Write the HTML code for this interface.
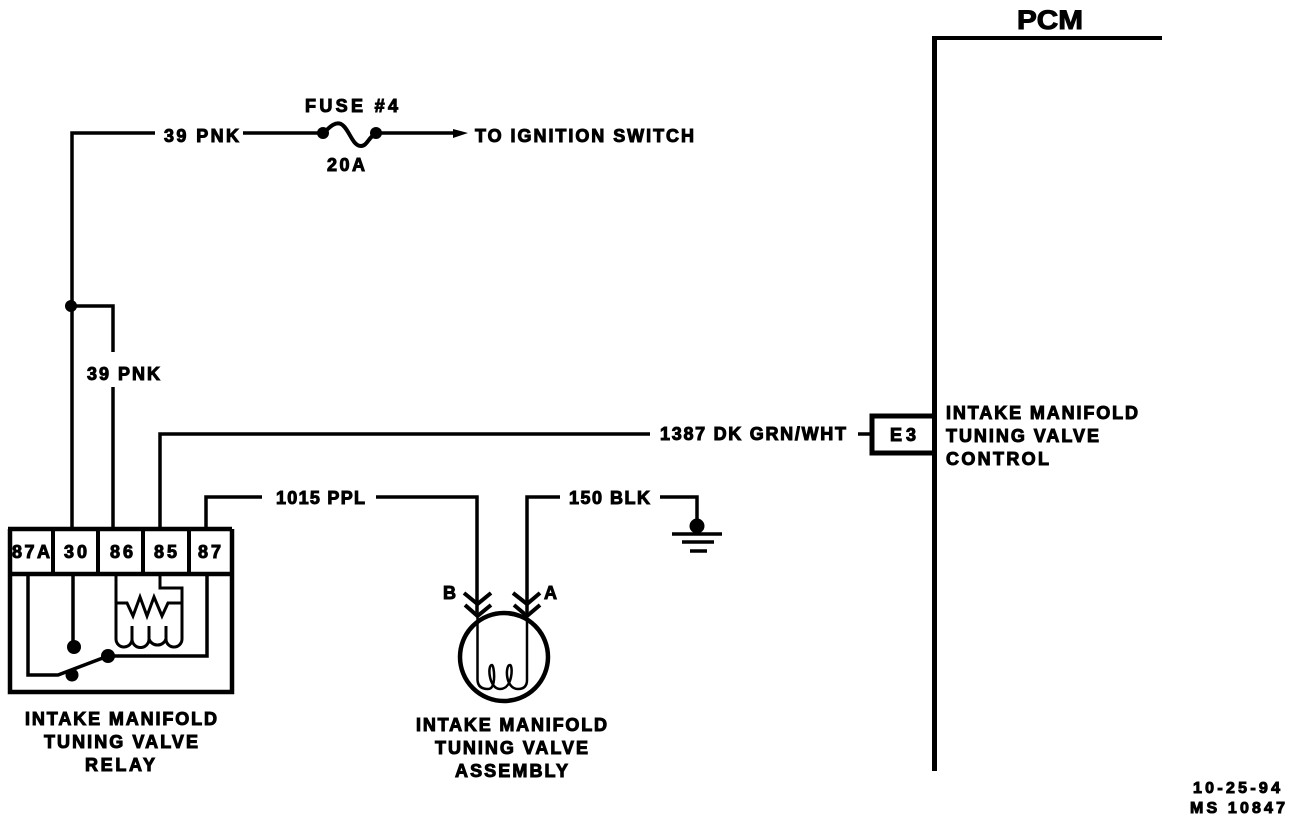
<!DOCTYPE html>
<html>
<head>
<meta charset="utf-8">
<style>
html,body{margin:0;padding:0;background:#fff;width:1296px;height:822px;overflow:hidden}
svg{display:block}
text{font-family:"Liberation Sans",sans-serif;font-weight:bold;font-size:18px;fill:#000;stroke:#000;stroke-width:1px}
.l{fill:none;stroke:#000;stroke-width:3.5}
.t{fill:none;stroke:#000;stroke-width:3}
</style>
</head>
<body>
<svg width="1296" height="822" viewBox="0 0 1296 822" xmlns="http://www.w3.org/2000/svg">
<!-- PCM -->
<path d="M932 38H1162" class="l" style="stroke-width:4"/>
<path d="M934.500 38V771" class="l" style="stroke-width:5"/>
<path d="M932 416H872V453H932" class="l" style="stroke-width:5"/>
<path d="M858 434H870" class="l"/>
<!-- Upper wiring -->
<path d="M72 527V133H155M243 133H323M376 133H456" class="l"/>
<path d="M72 306H113V352M113 387V527" class="l"/>
<path d="M160 527V434H650" class="l"/>
<path d="M206 527V497H262M376 497H477V612" class="l"/>
<path d="M527 612V497H560M660 497H697V526" class="l"/>
<circle cx="71" cy="306" r="6"/>
<!-- Fuse -->
<circle cx="323" cy="133" r="6"/><circle cx="376" cy="133" r="6"/>
<path d="M324 133C331 125 336 122 341 124C349 128 352 146 361 146C367 146 368 138 376 133" class="l" style="stroke-width:4"/>
<path d="M453 129L468 133L453 138Z"/>
<!-- Ground -->
<circle cx="697" cy="526" r="7.500"/>
<path d="M672 534H722M682 542H714M690 551H707" class="l"/>
<!-- Relay -->
<path d="M8 529H232M10 574H232M10 529V692H232V529" class="l" style="stroke-width:4.500"/>
<path d="M53 529V574M98 529V574M143 529V574M189 529V574" class="l" style="stroke-width:4"/>
<path d="M28 575V675H58L108 656H207V575" class="l"/>
<path d="M73 575V647" class="l"/>
<circle cx="74" cy="647" r="7"/><circle cx="72" cy="675" r="6.500"/><circle cx="108" cy="656" r="7"/>
<path d="M116 575V639A8 8 0 0 0 132 639A8 8 0 0 0 149 639A9 9 0 0 0 166 639A8 8 0 0 0 182 639V588H160V575" class="t"/>
<path d="M132 639V626M149 639V626M166 639V626" class="t"/>
<path d="M116 603H127L133 616L140 597L147 616L154 597L162 616L168 603H182" class="t"/>
<!-- Assembly -->
<circle cx="504" cy="657" r="44" class="l" style="stroke-width:4.500"/>
<path d="M477.500 612V680Q478 689 488 689C497 689 494 665 492 665C487 665 489 689 500 689C513 689 513 665 510 665C505 665 505 689 518 689Q527 689 527 680V612" class="t" style="stroke-width:2.500"/>
<path d="M464 593L477.500 604L491 593M465 605L477.500 616L491 605M513 593L527 604L540 593M514 605L527 616L540 605" class="l" style="stroke-width:4"/>
<!-- Labels -->
<text x="1017" y="29" textLength="66" lengthAdjust="spacingAndGlyphs" style="font-size:27px">PCM</text>
<text x="305" y="112" textLength="93" lengthAdjust="spacing">FUSE #4</text>
<text x="327" y="171" textLength="38" lengthAdjust="spacing">20A</text>
<text x="164" y="142" textLength="75" lengthAdjust="spacing">39 PNK</text>
<text x="475" y="142" textLength="219" lengthAdjust="spacing">TO IGNITION SWITCH</text>
<text x="87" y="380" textLength="73" lengthAdjust="spacing">39 PNK</text>
<text x="660" y="440" textLength="186" lengthAdjust="spacing">1387 DK GRN/WHT</text>
<text x="890" y="441" textLength="26" lengthAdjust="spacing">E3</text>
<text x="946" y="419" textLength="192" lengthAdjust="spacing">INTAKE MANIFOLD</text>
<text x="946" y="442" textLength="153" lengthAdjust="spacing">TUNING VALVE</text>
<text x="946" y="465" textLength="103" lengthAdjust="spacing">CONTROL</text>
<text x="276" y="504" textLength="89" lengthAdjust="spacing">1015 PPL</text>
<text x="569" y="504" textLength="81" lengthAdjust="spacing">150 BLK</text>
<text x="12" y="558" textLength="38" lengthAdjust="spacing">87A</text>
<text x="64" y="558" textLength="23" lengthAdjust="spacing">30</text>
<text x="110" y="558" textLength="23" lengthAdjust="spacing">86</text>
<text x="154" y="558" textLength="23" lengthAdjust="spacing">85</text>
<text x="198" y="558" textLength="23" lengthAdjust="spacing">87</text>
<text x="25" y="725" textLength="192" lengthAdjust="spacing">INTAKE MANIFOLD</text>
<text x="44" y="748" textLength="154" lengthAdjust="spacing">TUNING VALVE</text>
<text x="85" y="771" textLength="70" lengthAdjust="spacing">RELAY</text>
<text x="416" y="731" textLength="191" lengthAdjust="spacing">INTAKE MANIFOLD</text>
<text x="435" y="754" textLength="153" lengthAdjust="spacing">TUNING VALVE</text>
<text x="455" y="777" textLength="113" lengthAdjust="spacing">ASSEMBLY</text>
<text x="443" y="599" textLength="14" lengthAdjust="spacing">B</text>
<text x="544" y="599" textLength="14" lengthAdjust="spacing">A</text>
<text x="1193" y="793" textLength="87" lengthAdjust="spacing" style="font-size:16px">10-25-94</text>
<text x="1190" y="813" textLength="95" lengthAdjust="spacing" style="font-size:16px">MS 10847</text>
</svg>
</body>
</html>
